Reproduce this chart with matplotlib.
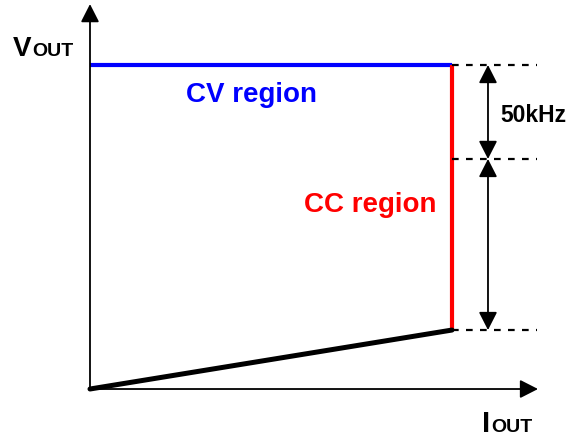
import numpy as np
import matplotlib.pyplot as plt

# CV/CC diagram values (normalised units)
i_knee = 1.0          # current where CV turns into CC
v_cv = 1.0            # constant voltage level
v_mid = 0.71          # middle marker level
v_low = 0.182         # end of the CC drop
load_i = [0.0, i_knee]
load_v = [0.0, v_low]
freq_label = "50kHz"

plt.rcParams['font.family'] = ['Liberation Sans', 'DejaVu Sans']
plt.rcParams['font.weight'] = 'bold'

fig = plt.figure(figsize=(5.79, 4.39), dpi=100)
ax = fig.add_axes([0, 0, 1, 1])
ax.set_xlim(-0.2486, 1.3508)
ax.set_ylim(-0.1512, 1.2037)
ax.axis('off')

ax_x_end = 1.2376
ax_y_end = 1.188
dash_end = 1.235
arr_x = 1.0994

# axes with arrows
arrow_kw = dict(arrowstyle='-|>,head_length=0.55,head_width=0.28',
                color='black', lw=1.3, mutation_scale=20,
                shrinkA=0, shrinkB=0)
ax.annotate('', xy=(ax_x_end, 0), xytext=(0, 0), arrowprops=arrow_kw)
ax.annotate('', xy=(0, ax_y_end), xytext=(0, 0), arrowprops=arrow_kw)

# CV, CC and load lines
ax.plot([0, i_knee], [v_cv, v_cv], color='#0000ff', lw=3, solid_capstyle='butt')
ax.plot([i_knee, i_knee], [v_low, v_cv], color='#ff0000', lw=3, solid_capstyle='butt')
ax.plot(load_i, load_v, color='black', lw=3.6, solid_capstyle='round')

# dashed guides
for lvl in [v_cv, v_mid, v_low]:
    ax.plot([i_knee, dash_end], [lvl, lvl], color='black', lw=1.6,
            linestyle=(0, (3, 3.3)))

# double arrows
darrow = dict(arrowstyle='<|-|>,head_length=0.55,head_width=0.28',
              color='black', lw=1.3, mutation_scale=20,
              shrinkA=0, shrinkB=0)
ax.annotate('', xy=(arr_x, v_cv), xytext=(arr_x, v_mid), arrowprops=darrow)
ax.annotate('', xy=(arr_x, v_mid), xytext=(arr_x, v_low), arrowprops=darrow)

# labels
ax.text(0.445, 0.91, "CV region", color='#0000ff', fontsize=20,
        ha='center', va='center', fontweight='bold')
ax.text(0.7735, 0.571, "CC region", color='#ff0000', fontsize=20,
        ha='center', va='center', fontweight='bold')
ax.text(1.224, 0.846, freq_label, color='black', fontsize=16.5,
        ha='center', va='center', fontweight='bold')

ax.text(-0.2127, 1.031, "V", fontsize=20, ha='left', va='baseline', fontweight='bold')
ax.text(-0.1602, 1.031, "OUT", fontsize=14, ha='left', va='baseline', fontweight='bold')
ax.text(1.083, -0.1296, "I", fontsize=21, ha='left', va='baseline', fontweight='bold')
ax.text(1.1077, -0.1296, "OUT", fontsize=14, ha='left', va='baseline', fontweight='bold')

fig.savefig('out.png', dpi=100)
